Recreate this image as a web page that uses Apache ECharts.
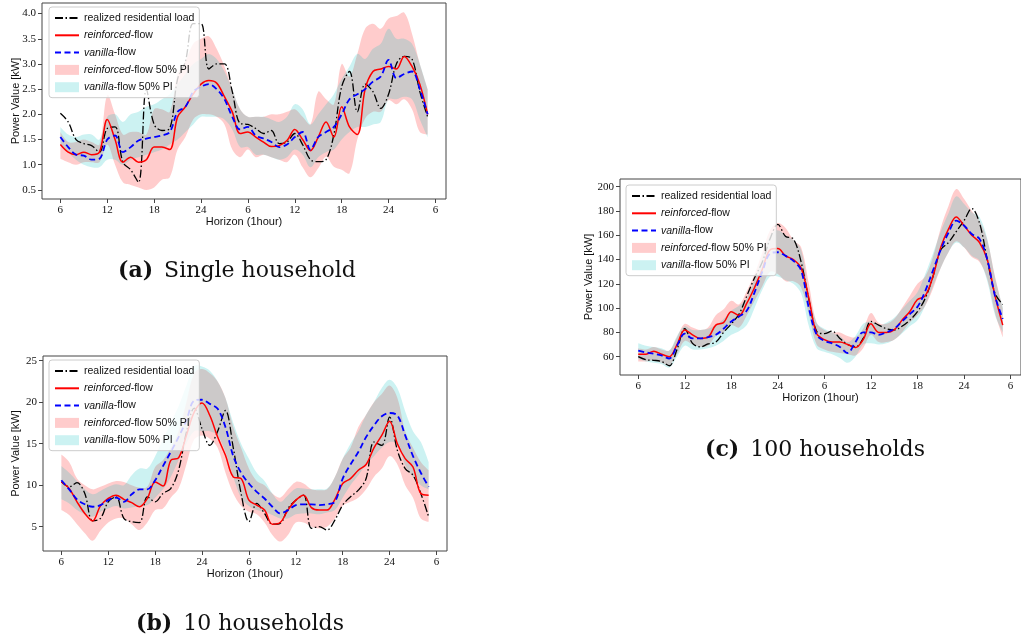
<!DOCTYPE html>
<html>
<head>
<meta charset="utf-8">
<script src="https://cdn.jsdelivr.net/npm/echarts@6/dist/echarts.min.js"></script>
<style>
html,body{margin:0;padding:0;background:#fff;}
#chart{width:1021px;height:641px;}
</style>
</head>
<body>
<div id="chart"></div>
<script>
// Forecast horizon (hours, wrapping past midnight) and tick positions
const hours = [6,7,8,9,10,11,12,13,14,15,16,17,18,19,20,21,22,23,24,25,26,27,28,29,30,31,32,33,34,35,36,37,38,39,40,41,42,43,44,45,46,47,48,49,50,51,52,53];
const hourTicks = [6,12,18,24,30,36,42,48,54];
const yTicksA = [0.5,1.0,1.5,2.0,2.5,3.0,3.5,4.0];
const yTicksB = [5,10,15,20,25];
const yTicksC = [60,80,100,120,140,160,180,200];

// (a) Single household [kW]
const realizedA   = [2.02,1.85,1.5,1.42,1.38,1.25,1.72,1.75,1.05,0.9, 0.65,2.5,1.8,1.68,1.72,2.7,3.05,3.8,3.8,2.9, 3.0,3.0,2.45,1.82,1.8,1.72,1.62,1.68,1.42,1.45, 1.62,1.4,1.1,1.06,1.1,1.6,2.55,2.85,2.05,2.6, 2.45,2.12,2.4,3.0,3.15,3.1,2.45,1.95];
const reinforcedA = [1.4,1.25,1.2,1.25,1.2,1.25,1.9,1.5,1.05,1.15, 1.05,1.1,1.35,1.35,1.3,1.95,2.15,2.4,2.6,2.67, 2.62,2.35,2.05,1.62,1.65,1.55,1.45,1.36,1.38,1.48, 1.7,1.5,1.28,1.55,1.85,1.55,2.15,1.75,1.6,2.5, 2.85,2.9,2.95,2.9,3.15,2.95,2.6,2.0];
const vanillaA    = [1.55,1.35,1.2,1.18,1.1,1.12,1.5,1.58,1.25,1.35, 1.48,1.52,1.55,1.58,1.65,2.05,2.15,2.45,2.55,2.6, 2.5,2.3,1.95,1.7,1.75,1.58,1.52,1.45,1.35,1.4, 1.55,1.65,1.3,1.55,1.65,1.75,2.0,2.3,2.4,2.5, 2.65,2.75,3.08,2.72,2.8,2.85,2.5,2.0];
const reinforcedLoA = [1.12,1.05,1.0,1.05,1.05,1.05,1.4,1.0,0.65,0.6, 0.55,0.5,0.55,0.7,0.75,1.3,1.55,1.9,2.0,2.0, 1.95,1.8,1.3,1.15,1.3,1.15,1.2,1.15,1.1,1.05, 1.2,0.95,0.75,0.93,1.16,0.96,0.9,0.83,1.5,1.92, 2.05,2.05,2.28,2.2,2.3,2.1,1.65,1.6];
const reinforcedHiA = [1.65,1.45,1.45,1.5,1.45,1.4,2.38,2.0,1.6,1.65, 1.65,1.6,2.1,2.1,2.05,2.8,3.05,3.4,3.5,3.55, 3.3,2.95,2.5,2.1,1.95,1.95,1.95,2.0,2.0,2.05, 2.1,1.95,1.8,2.45,2.3,2.2,3.0,2.75,3.2,3.7, 3.8,3.7,3.9,3.95,4.02,3.6,3.0,2.5];
const vanillaLoA = [1.4,1.25,1.1,1.0,0.95,0.95,1.1,1.1,1.0,1.1, 1.15,1.2,1.25,1.3,1.4,1.5,1.65,1.8,1.95,1.95, 1.95,1.9,1.7,1.35,1.35,1.2,1.2,1.15,1.1,1.15, 1.3,1.2,0.95,1.15,1.25,1.3,1.5,1.65,1.75,1.75, 1.8,1.85,2.3,2.3,2.35,2.3,1.9,1.55];
const vanillaHiA = [1.75,1.6,1.55,1.6,1.6,1.5,1.95,2.0,1.85,2.0, 2.05,2.15,2.2,2.3,2.4,2.6,2.8,3.0,3.1,3.2, 3.1,2.85,2.5,2.1,1.95,1.95,1.95,1.9,1.85,1.95, 2.2,2.1,1.8,2.0,2.2,2.4,2.7,2.95,3.2,3.1, 3.3,3.4,3.7,3.5,3.5,3.4,3.0,2.5];

// (b) 10 households [kW]
const realizedB   = [10.4,9.8,10.3,9.0,5.7,6.0,8.0,8.6,6.0,5.6, 5.5,8.6,8.0,9.0,9.6,11.8,16.4,19.3,16.8,14.8, 16.5,19.0,14.5,9.0,5.6,7.8,6.6,5.3,5.4,7.2, 8.2,8.8,4.8,5.0,4.6,5.8,7.6,8.6,9.4,10.8, 15.2,14.8,18.2,14.2,12.0,11.2,9.0,6.2];
const reinforcedB = [10.4,9.6,8.0,6.6,5.7,7.5,8.4,8.8,8.3,7.9, 7.4,8.4,10.4,9.9,13.0,13.3,16.0,18.8,19.9,18.4, 15.8,13.6,11.0,10.8,8.2,7.6,7.0,5.3,5.5,7.0, 8.2,8.8,7.3,7.0,7.0,8.3,10.2,10.8,11.8,12.5, 14.5,16.0,17.7,15.0,13.2,12.2,9.0,8.8];
const vanillaB    = [10.6,9.5,8.3,7.7,7.4,7.6,8.2,8.5,8.0,8.9, 9.5,9.5,10.6,12.3,14.0,15.8,17.8,20.2,20.3,19.8, 19.2,17.0,13.5,11.5,10.2,9.2,8.4,7.4,6.6,7.0, 7.6,7.7,7.7,7.6,7.7,8.0,10.8,12.5,14.0,15.8, 17.2,18.3,18.7,18.4,16.0,13.5,11.5,9.8];
const reinforcedLoB = [7.0,6.4,5.3,4.2,3.3,4.5,5.5,6.0,6.0,5.3, 4.6,5.5,7.0,7.2,8.5,9.6,12.5,15.5,16.0,15.6, 14.5,11.5,9.0,7.5,6.8,6.5,5.5,4.0,3.2,4.0, 5.5,5.5,5.0,4.8,5.0,6.0,7.5,8.0,8.5,9.5, 11.0,12.0,13.5,12.5,10.0,8.5,6.0,5.6];
const reinforcedHiB = [13.7,12.8,10.8,10.0,9.5,9.8,10.2,10.5,10.4,10.0, 9.7,9.8,12.2,13.0,14.5,16.5,20.0,23.5,24.0,23.5, 22.5,20.5,17.0,14.5,12.0,10.5,10.0,9.0,8.5,9.5, 10.4,10.2,9.5,9.4,9.5,11.0,13.2,14.5,17.0,18.5, 20.0,21.0,22.0,20.5,16.5,14.5,12.8,11.8];
const vanillaLoB = [8.3,7.8,7.0,6.5,6.2,6.8,7.2,7.5,7.2,7.3, 7.5,7.6,8.5,9.5,11.0,13.0,15.0,16.5,16.5,16.5, 16.0,14.0,11.0,8.5,7.5,7.0,6.8,6.4,6.0,6.0, 6.5,6.6,6.6,6.5,6.7,7.0,8.5,10.0,11.2,12.5, 13.5,14.5,15.2,15.0,12.4,11.0,10.0,9.5];
const vanillaHiB = [12.3,11.5,10.5,9.5,8.9,9.3,9.8,10.1,10.0,11.2, 12.0,12.0,13.5,15.5,17.5,19.5,22.0,24.4,24.3,23.8, 22.5,20.5,17.5,15.0,13.2,11.5,10.5,9.0,8.0,8.8, 9.6,9.6,9.5,9.5,9.6,11.0,13.2,15.0,16.5,18.5, 20.0,21.7,22.7,21.7,18.9,16.5,15.2,12.8];

// (c) 100 households [kW]
const realizedC   = [60,57.5,57,56,52.5,66,83,71,68,70.5, 72,80,87,95,110,125,138,157,169,159, 157,138,107,81,79,81,75,70,68,75, 89,86,83,82,85,90,97,108,126,148, 154,163,172,182,170,140,112,103];
const reinforcedC = [62,62,64.5,62,60,70,82,78,75,76, 86,88,97,94,104,117,132,148,149,143, 140,133,108,79,74,72,72,70,67.5,74, 87,80,80,82,90,97,107,110,126,150, 165,175,168,160,154,140,110,86];
const vanillaC    = [65,63.5,62.5,61,58.5,69,79,75,75,76, 78,83,89,93,98,113,130,145,146,143, 139,131,100,78,73,71,68,63,72,80, 80,78,80,83,89,95,101,114,131,148, 162,172,168,161,157,140,110,91];
const reinforcedLoC = [56,56,57,55,53,62,73,70,68,69, 77,80,86,84,94,106,118,130,128,122, 122,117,95,70,66,64,63,62,61,67, 78,72,72,74,80,88,94,102,116,133, 146,155,150,142,138,124,96,76];
const reinforcedHiC = [67,66,68,66,65,76,87,84,82,84, 94,99,106,103,114,128,146,164,170,166, 156,150,120,88,82,80,80,77,76,83, 96,88,87,91,100,110,120,126,142,166, 184,198,190,180,172,156,126,100];
const vanillaLoC = [58,56,55,54,51,60,69,66,66,67, 69,73,78,81,86,100,115,126,126,123, 120,112,85,67,64,62,59,55,60,70, 71,70,71,74,79,85,90,102,118,133, 146,154,150,143,139,122,94,80];
const vanillaHiC = [71,69,68,67,65,77,85,82,82,83, 86,91,98,102,108,124,142,160,164,160, 156,148,112,88,83,80,77,72,77,87, 89,86,88,92,99,106,113,128,145,163, 178,192,186,179,175,157,125,101];

const NAME_REAL = 'realized residential load';
const NAME_RF = 'reinforced-flow';
const NAME_VF = 'vanilla-flow';
const NAME_RF_PI = 'reinforced-flow 50% PI';
const NAME_VF_PI = 'vanilla-flow 50% PI';

const RED_FILL = 'rgba(255,0,0,0.2)';
const CYAN_FILL = 'rgba(0,191,191,0.2)';
const SMOOTH = 0.35;
const SERIF = '"Liberation Serif", "DejaVu Serif", serif';
const SANS = '"Liberation Sans", Arial, sans-serif';

const panels = [
  { realized: realizedA, reinforced: reinforcedA, vanilla: vanillaA,
    rLo: reinforcedLoA, rHi: reinforcedHiA, vLo: vanillaLoA, vHi: vanillaHiA,
    yMin: 0.32, yMax: 4.21, yTicks: yTicksA, yFmt: v => v.toFixed(1), yNameGap: 21,
    grid: { left: 42, top: 3, width: 404, height: 196 }, legendPos: { left: 49, top: 7 } },
  { realized: realizedB, reinforced: reinforcedB, vanilla: vanillaB,
    rLo: reinforcedLoB, rHi: reinforcedHiB, vLo: vanillaLoB, vHi: vanillaHiB,
    yMin: 2.07, yMax: 25.57, yTicks: yTicksB, yFmt: v => String(v), yNameGap: 22,
    grid: { left: 43, top: 356, width: 404, height: 195 }, legendPos: { left: 49, top: 360 } },
  { realized: realizedC, reinforced: reinforcedC, vanilla: vanillaC,
    rLo: reinforcedLoC, rHi: reinforcedHiC, vLo: vanillaLoC, vHi: vanillaHiC,
    yMin: 44.9, yMax: 206.3, yTicks: yTicksC, yFmt: v => String(v), yNameGap: 26,
    grid: { left: 620, top: 179, width: 402, height: 196 }, legendPos: { left: 626, top: 185 } }
];

const hourLabel = v => { const h = v % 24; return String(h === 0 ? 24 : h); };

function pairs(values) { return hours.map((h, i) => [h, values[i]]); }

// Smooth cubic path through pixel points (same control-point rule as line smoothing)
function smoothPath(pts, smooth, startCmd) {
  const n = pts.length;
  const cps = [];
  for (let i = 0; i < n; i++) {
    const p = pts[i];
    if (i === 0 || i === n - 1) { cps.push([p, p]); continue; }
    const prev = pts[i - 1], next = pts[i + 1];
    const vx = next[0] - prev[0], vy = next[1] - prev[1];
    const d0 = Math.hypot(p[0] - prev[0], p[1] - prev[1]);
    const d1 = Math.hypot(next[0] - p[0], next[1] - p[1]);
    const r = d1 / ((d0 + d1) || 1);
    cps.push([[p[0] - vx * smooth * (1 - r), p[1] - vy * smooth * (1 - r)],
              [p[0] + vx * smooth * r, p[1] + vy * smooth * r]]);
  }
  let d = startCmd + pts[0][0].toFixed(2) + ' ' + pts[0][1].toFixed(2);
  for (let i = 1; i < n; i++) {
    const a = cps[i - 1][1], b = cps[i][0], p = pts[i];
    d += ' C ' + a[0].toFixed(2) + ' ' + a[1].toFixed(2) + ' ' + b[0].toFixed(2) + ' ' + b[1].toFixed(2) +
         ' ' + p[0].toFixed(2) + ' ' + p[1].toFixed(2);
  }
  return d;
}

// Prediction interval drawn as one filled region between lower and upper bounds
function bandSeries(g, lo, hi, fill, name) {
  return {
    type: 'custom', name: name, xAxisIndex: g, yAxisIndex: g, z: 1, silent: true, color: fill,
    data: [[hours[0], lo[0]]],
    renderItem: (params, api) => {
      const upper = hours.map((h, i) => api.coord([h, hi[i]]));
      const lower = hours.map((h, i) => api.coord([h, lo[i]])).reverse();
      const d = smoothPath(upper, SMOOTH, 'M ') + ' ' + smoothPath(lower, SMOOTH, 'L ') + ' Z';
      return { type: 'path', shape: { pathData: d }, style: { fill: fill, stroke: null, lineWidth: 0 } };
    }
  };
}

function lineSeries(g, values, name, color, width, dash) {
  return { type: 'line', xAxisIndex: g, yAxisIndex: g, name: name, data: pairs(values),
    smooth: SMOOTH, symbol: 'none', z: 3, color: color, silent: true, emphasis: { disabled: true },
    lineStyle: { color: color, width: width, type: dash, cap: 'butt' } };
}

const grids = [], xAxes = [], yAxes = [], series = [], legends = [];

panels.forEach((p, g) => {
  grids.push(Object.assign({ show: true, borderColor: '#444', borderWidth: 1, containLabel: false }, p.grid));
  xAxes.push({
    gridIndex: g, type: 'value', min: 3.65, max: 55.35,
    name: 'Horizon (1hour)', nameLocation: 'middle', nameGap: 17,
    nameTextStyle: { fontFamily: SANS, fontSize: 11, color: '#111' },
    axisLine: { show: false },
    axisTick: { show: true, customValues: hourTicks, length: 4, inside: false, lineStyle: { color: '#444' } },
    axisLabel: { customValues: hourTicks, formatter: hourLabel, margin: 6, fontFamily: SERIF, fontSize: 11, color: '#111' },
    splitLine: { show: false }
  });
  yAxes.push({
    gridIndex: g, type: 'value', min: p.yMin, max: p.yMax,
    name: 'Power Value [kW]', nameLocation: 'middle', nameGap: p.yNameGap, nameMoveOverlap: false,
    nameTextStyle: { fontFamily: SANS, fontSize: 11, color: '#111' },
    axisLine: { show: false },
    axisTick: { show: true, customValues: p.yTicks, length: 4, inside: false, lineStyle: { color: '#444' } },
    axisLabel: { customValues: p.yTicks, formatter: p.yFmt, margin: 6, fontFamily: SERIF, fontSize: 11, color: '#111' },
    splitLine: { show: false }
  });
  series.push(bandSeries(g, p.rLo, p.rHi, RED_FILL, NAME_RF_PI));
  series.push(bandSeries(g, p.vLo, p.vHi, CYAN_FILL, NAME_VF_PI));
  series.push(lineSeries(g, p.realized, NAME_REAL, '#000000', 1.3, [8, 2.5, 1.5, 2.5]));
  series.push(lineSeries(g, p.reinforced, NAME_RF, '#ff0000', 1.5, 'solid'));
  series.push(lineSeries(g, p.vanilla, NAME_VF, '#0000ff', 1.8, [6, 3.5]));
  legends.push({
    left: p.legendPos.left, top: p.legendPos.top, orient: 'vertical', selectedMode: false,
    itemWidth: 24, itemHeight: 10, itemGap: 6.3, padding: [5.5, 5, 5, 5],
    backgroundColor: 'rgba(255,255,255,0.8)', borderColor: '#cccccc', borderWidth: 1, borderRadius: 3,
    textStyle: { fontFamily: SANS, fontSize: 10.5, lineHeight: 10, color: '#111',
      rich: { i: { fontFamily: SANS, fontSize: 10.5, lineHeight: 10, fontStyle: 'italic', color: '#111' } } },
    formatter: n => n.replace(/^(reinforced|vanilla)/, '{i|$1}'),
    data: [
      { name: NAME_REAL, itemStyle: { opacity: 0 } },
      { name: NAME_RF, itemStyle: { opacity: 0 } },
      { name: NAME_VF, itemStyle: { opacity: 0 } },
      { name: NAME_RF_PI, icon: 'rect', itemStyle: { color: RED_FILL, borderWidth: 0 } },
      { name: NAME_VF_PI, icon: 'rect', itemStyle: { color: CYAN_FILL, borderWidth: 0 } }
    ]
  });
});

// Sub-figure captions
function caption(x, y, tag, text) {
  return {
    type: 'text', x: x, y: y, silent: true,
    style: {
      text: '{b|' + tag + '}{s|}' + text,
      fontFamily: '"DejaVu Serif", serif', fontSize: 22, fill: '#111',
      align: 'center', verticalAlign: 'middle', textAlign: 'center', textVerticalAlign: 'middle',
      rich: {
        b: { fontFamily: '"DejaVu Serif", serif', fontSize: 22, fontWeight: 'bold', fill: '#111' },
        s: { width: 11 }
      }
    }
  };
}

const chart = echarts.init(document.getElementById('chart'), null, { renderer: 'canvas' });
chart.setOption({
  animation: false,
  backgroundColor: '#ffffff',
  grid: grids,
  xAxis: xAxes,
  yAxis: yAxes,
  legend: legends,
  series: series,
  graphic: [
    caption(237, 271, '(a)', 'Single household'),
    caption(240, 624, '(b)', '10 households'),
    caption(815, 450, '(c)', '100 households')
  ]
});
</script>
</body>
</html>
